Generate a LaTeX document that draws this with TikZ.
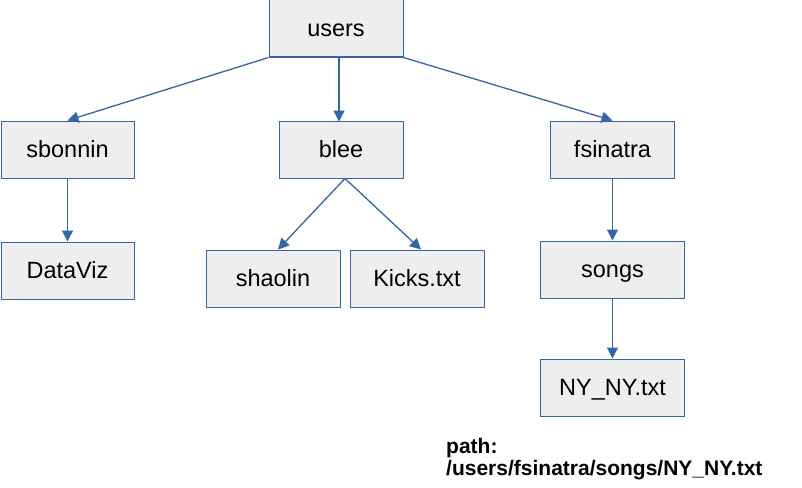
\documentclass[tikz,border=0pt]{standalone}
\usepackage{fontspec}
\setmainfont{Liberation Sans}
\usetikzlibrary{arrows.meta,calc}
\definecolor{boxfill}{HTML}{EEEEEE}
\definecolor{boxline}{HTML}{3465A4}
\begin{document}
\begin{tikzpicture}[x=1pt,y=-1pt,
  dirbox/.style={draw=boxline,fill=boxfill,line width=1pt,inner sep=0pt,
    font=\fontsize{23.5}{28}\selectfont,text height=16.8pt,text depth=0pt,
    minimum height=57pt},
  link/.style={draw=boxline,line width=1.3pt,-{Triangle[length=11pt,width=11pt]}}]
\useasboundingbox (0,0) rectangle (802,487);
\node[dirbox,minimum width=134pt] (users) at (336,28.5) {users};
\node[dirbox,minimum width=133pt] (sbonnin) at (67.5,149.5) {sbonnin};
\node[dirbox,minimum width=124pt] (blee) at (341,149.5) {blee};
\node[dirbox,minimum width=124pt] (fsinatra) at (612.5,149.5) {fsinatra};
\node[dirbox,minimum width=133pt] (dataviz) at (67.5,270.5) {DataViz};
\node[dirbox,minimum width=134pt] (shaolin) at (273,278.5) {shaolin};
\node[dirbox,minimum width=134pt] (kicks) at (417,278.5) {Kicks.txt};
\node[dirbox,minimum width=144pt] (songs) at (612.5,269.5) {songs};
\node[dirbox,minimum width=144pt] (nyny) at (612.5,387.5) {NY\_NY.txt};
\node[anchor=base west,align=left,inner sep=0pt,
  font=\bfseries\fontsize{21}{22.5}\selectfont] (path) at (446,475.5)
  {path:\\/users/fsinatra/songs/NY\_NY.txt};
\draw[link] (users.south west) -- (sbonnin.north);
\draw[link] ($(users.south)+(3,0)$) -- ($(users.south)+(3,64)$);
\draw[link] (users.south east) -- (fsinatra.north);
\draw[link] (sbonnin.south) -- (dataviz.north);
\draw[link] ($(blee.south)+(4,0)$) -- ($(shaolin.north)+(5,0)$);
\draw[link] ($(blee.south)+(4,0)$) -- ($(kicks.north)+(4,0)$);
\draw[link] (fsinatra.south) -- (songs.north);
\draw[link] (songs.south) -- (nyny.north);
\end{tikzpicture}
\end{document}
